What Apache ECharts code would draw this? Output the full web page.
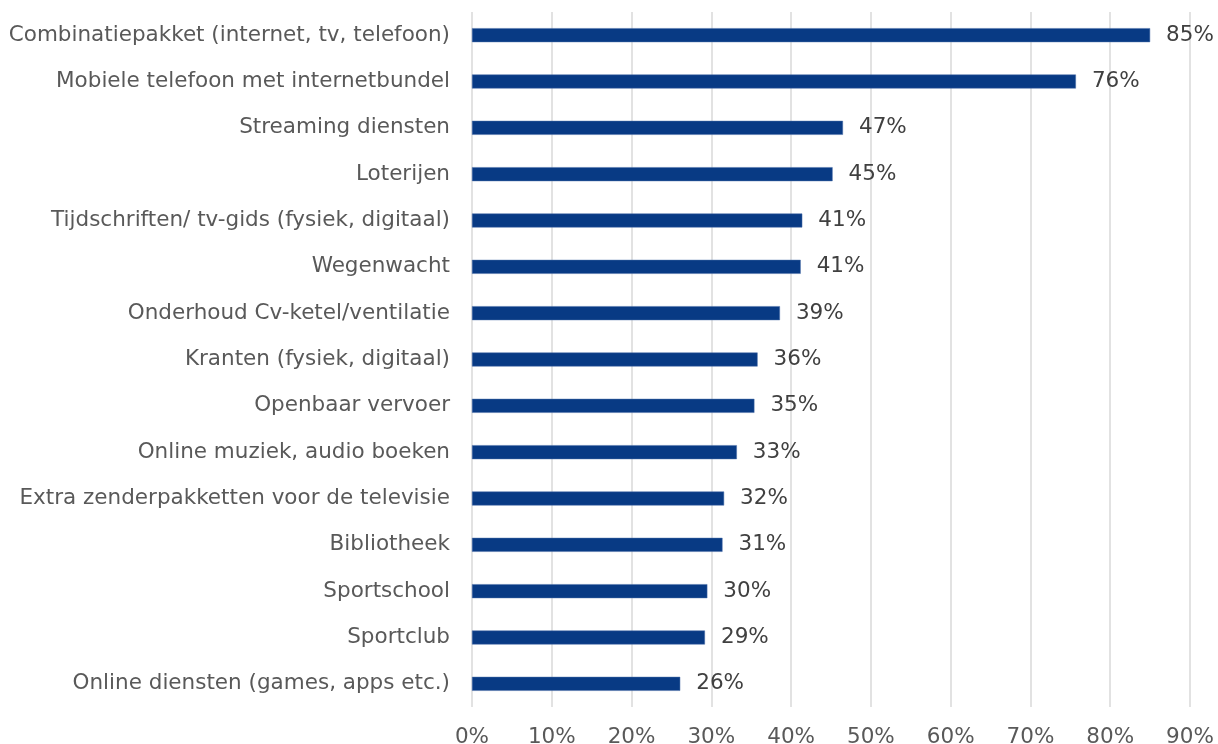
<!DOCTYPE html>
<html><head><meta charset="utf-8">
<script src="https://cdn.jsdelivr.net/npm/echarts@6/dist/echarts.min.js"></script>
<style>html,body{margin:0;padding:0;background:#fff}#c{width:1218px;height:744px}</style>
</head><body><div id="c"></div>
<script>
const categories = [
  "Combinatiepakket (internet, tv, telefoon)",
  "Mobiele telefoon met internetbundel",
  "Streaming diensten",
  "Loterijen",
  "Tijdschriften/ tv-gids (fysiek, digitaal)",
  "Wegenwacht",
  "Onderhoud Cv-ketel/ventilatie",
  "Kranten (fysiek, digitaal)",
  "Openbaar vervoer",
  "Online muziek, audio boeken",
  "Extra zenderpakketten voor de televisie",
  "Bibliotheek",
  "Sportschool",
  "Sportclub",
  "Online diensten (games, apps etc.)"
];
const values = [85.0, 75.7, 46.5, 45.2, 41.4, 41.2, 38.6, 35.8, 35.4, 33.2, 31.6, 31.4, 29.5, 29.2, 26.1];
const xTicks = [0, 10, 20, 30, 40, 50, 60, 70, 80, 90];

const chart = echarts.init(document.getElementById('c'), null, {renderer: 'canvas'});
const font = '"DejaVu Sans", Verdana, sans-serif';
chart.setOption({
  animation: false,
  grid: {left: 472, right: 28, top: 12, bottom: 37, containLabel: false, outerBoundsMode: 'none'},
  xAxis: {
    type: 'value', min: xTicks[0], max: xTicks[xTicks.length - 1], interval: 10,
    axisLine: {show: false}, axisTick: {show: false},
    splitLine: {show: true, lineStyle: {color: '#d9d9d9', width: 1.5}},
    axisLabel: {formatter: v => v + '%', color: '#595959', fontFamily: font, fontSize: 21.5, margin: 19}
  },
  yAxis: {
    type: 'category', data: categories, inverse: true,
    axisLine: {show: false}, axisTick: {show: false},
    axisLabel: {color: '#595959', fontFamily: font, fontSize: 21.5, margin: 22}
  },
  series: [{
    type: 'bar', data: values, barWidth: 14,
    itemStyle: {color: '#083a84', borderColor: '#4a6fa8', borderWidth: 0.5},
    label: {show: true, position: 'right', distance: 16, formatter: p => Math.round(p.value) + '%',
      color: '#404040', fontFamily: font, fontSize: 21.5}
  }]
});
</script></body></html>
